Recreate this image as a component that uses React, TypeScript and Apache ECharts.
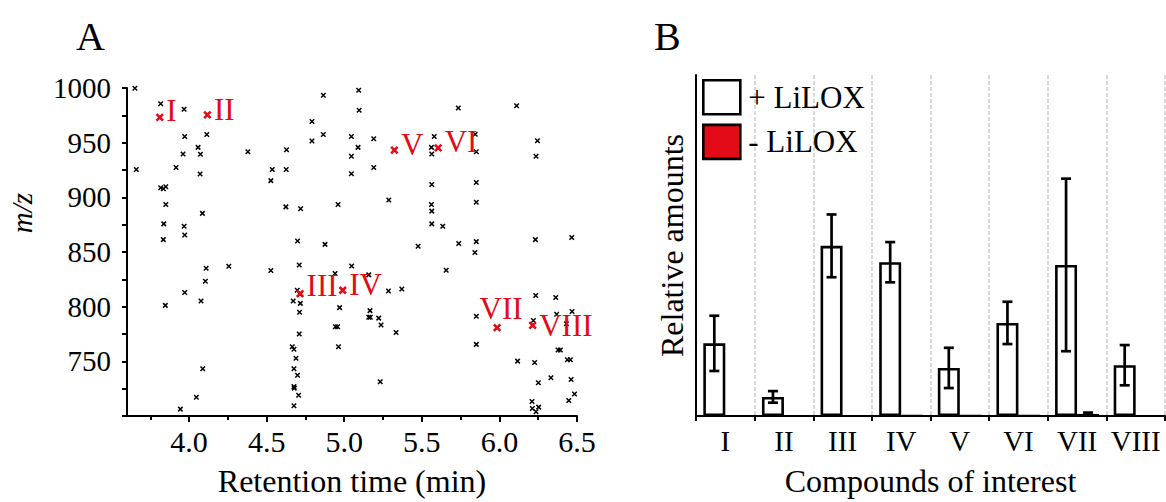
import React, { useEffect, useRef } from 'react';
import * as echarts from 'echarts';

// ---------- Panel A data ----------
const blackPoints: [number, number][] = [
  [3.651, 999.7], [3.817, 985.6], [3.968, 980.5], [4.792, 969.4], [3.972, 955.6], [4.114, 957.4],
  [4.792, 951.6], [4.058, 945.7], [3.961, 939.6], [4.073, 939.4], [4.379, 941.7], [4.628, 943.5],
  [3.66, 925.5], [3.916, 927.3], [4.071, 921.3], [4.536, 925.5], [4.626, 925.5], [4.527, 915.3],
  [3.817, 908.7], [3.834, 907.8], [3.85, 909.6], [3.85, 893.4], [4.086, 885.3], [4.624, 891.3],
  [4.719, 889.5], [3.837, 875.7], [3.968, 873.6], [3.834, 861.3], [3.972, 865.5], [4.699, 860.1],
  [4.865, 993.4], [5.093, 997.9], [5.096, 979.6], [5.735, 981.7], [4.865, 957.4], [5.046, 955.6],
  [5.19, 953.5], [5.089, 945.7], [5.046, 937.6], [5.58, 955.6], [5.562, 945.7], [5.564, 939.6],
  [5.844, 957.7], [5.851, 941.7], [5.19, 927.3], [5.046, 921.6], [5.564, 911.7], [5.851, 913.5],
  [4.96, 893.4], [5.287, 897.6], [5.562, 893.4], [5.564, 887.4], [5.851, 895.5], [5.564, 875.7],
  [5.635, 873.6], [4.876, 857.0], [5.476, 855.2], [5.738, 857.7], [5.851, 859.5], [5.842, 849.5],
  [6.111, 983.8], [6.245, 951.7], [6.236, 937.6], [6.232, 861.3], [6.466, 863.3],
  [4.71, 838.1], [4.11, 835.1], [4.256, 836.9], [4.527, 833.0], [4.105, 823.2], [3.972, 812.9],
  [3.847, 801.2], [4.077, 805.1], [4.697, 815.0], [4.715, 811.1], [4.671, 805.1], [4.717, 803.0],
  [4.712, 794.9], [4.71, 775.0], [4.665, 763.3], [4.676, 761.0], [4.689, 752.9], [4.088, 743.2],
  [4.676, 743.2], [4.699, 737.2], [4.676, 727.0], [4.678, 725.5], [4.706, 718.9], [4.047, 717.1],
  [3.944, 706.3], [4.676, 709.3],
  [5.048, 837.2], [5.657, 833.3], [4.941, 830.3], [5.158, 829.1], [5.285, 814.4], [5.371, 816.2],
  [4.97, 799.1], [5.166, 796.4], [5.158, 790.4], [5.168, 790.4], [5.222, 789.5], [5.237, 783.2],
  [4.943, 781.7], [4.957, 781.7], [5.334, 776.3], [5.851, 791.3], [5.851, 765.5], [4.963, 763.3],
  [5.232, 731.3],
  [6.234, 810.2], [6.363, 808.4], [6.219, 787.4], [6.369, 793.1], [6.468, 795.5], [6.432, 784.4],
  [6.378, 760.4], [6.393, 760.4], [6.438, 751.4], [6.457, 751.4], [6.117, 750.2], [6.227, 748.9],
  [6.332, 734.9], [6.251, 730.4], [6.462, 733.3], [6.484, 720.1], [6.447, 714.1], [6.21, 713.2],
  [6.212, 706.9], [6.253, 708.1], [6.236, 703.9],
];

const redPoints: [number, number][] = [
  [3.811, 973.2], [4.118, 975.4], [4.715, 812.0], [4.99, 815.0],
  [5.323, 943.2], [5.605, 945.3], [5.985, 780.8], [6.214, 782.9],
];
const redNames = ['I', 'II', 'III', 'IV', 'V', 'VI', 'VII', 'VIII'];

const xMajorTicks = [4.0, 4.5, 5.0, 5.5, 6.0, 6.5];
const xMinorTicks = [3.75, 4.25, 4.75, 5.25, 5.75, 6.25];

// ---------- Panel B data ----------
const compounds = ['I', 'II', 'III', 'IV', 'V', 'VI', 'VII', 'VIII'];
const plusLilox = [0.213, 0.056, 0.499, 0.451, 0.141, 0.273, 0.443, 0.149];
const plusErr = [0.081, 0.017, 0.092, 0.059, 0.059, 0.062, 0.253, 0.059];
const minusLilox = [0, 0, 0, 0.003, 0.002, 0.002, 0.006, 0];
const minusErr = [0, 0, 0, 0, 0, 0, 0.004, 0];

const FONT = '"Liberation Serif", "Times New Roman", Times, serif';
const RED = '#e20b17';

// label placement styles for red markers (by index)
const labelStyles: any[] = [
  { position: 'right', distance: 2, offset: [0, -7] },
  { position: 'right', distance: 2, offset: [0, -5] },
  { position: 'right', distance: 2, offset: [0, -8] },
  { position: 'right', distance: 2, offset: [0, -6] },
  { position: 'right', distance: 2, offset: [0, -6] },
  { position: 'right', distance: 2, offset: [0, -6] },
  { position: 'top', distance: 0, offset: [4, 1] },
  { position: 'right', distance: 2, offset: [0, 0] },
];

const X_PATH = 'path://M0,0L10,10M10,0L0,10';

function errorRenderer(shift: number) {
  return (params: any, api: any) => {
    const idx = api.value(0);
    const val = api.value(1);
    const err = api.value(2);
    if (!err) return null;
    const hi = api.coord([idx, val + err]);
    const lo = api.coord([idx, val - err]);
    const x = hi[0] + shift;
    const cap = 5;
    const style = { stroke: '#000', lineWidth: 2.7 };
    return {
      type: 'group',
      children: [
        { type: 'line', shape: { x1: x, y1: hi[1], x2: x, y2: lo[1] }, style },
        { type: 'line', shape: { x1: x - cap, y1: hi[1], x2: x + cap, y2: hi[1] }, style },
        { type: 'line', shape: { x1: x - cap, y1: lo[1], x2: x + cap, y2: lo[1] }, style },
      ],
    };
  };
}

export default function App() {
  const ref = useRef<HTMLDivElement>(null);
  useEffect(() => {
    const chart = echarts.init(ref.current!, null, { renderer: 'svg' });
    const axisLine = { show: true, lineStyle: { color: '#000', width: 2 } };
    const option: any = {
      animation: false,
      textStyle: { fontFamily: FONT, color: '#000' },
      grid: [
        { left: 127, top: 88, width: 450, height: 333 },
        { left: 696, top: 75, width: 469, height: 346 },
      ],
      legend: {
        data: ['+ LiLOX', '- LiLOX'],
        orient: 'vertical',
        left: 702,
        top: 79,
        padding: 0,
        itemWidth: 37,
        itemHeight: 34,
        itemGap: 8,
        icon: 'rect',
        selectedMode: false,
        itemStyle: { borderColor: '#000', borderWidth: 2.6 },
        textStyle: { fontFamily: FONT, fontSize: 31, color: '#000', padding: [0, 0, 0, 3] },
      },
      xAxis: [
        {
          gridIndex: 0, type: 'value', min: 3.6, max: 6.5, position: 'bottom',
          axisLine,
          axisTick: { show: true, customValues: xMajorTicks, length: 6, lineStyle: { color: '#000', width: 2 } },
          axisLabel: {
            customValues: xMajorTicks, fontSize: 30, margin: 10, color: '#000', fontFamily: FONT,
            formatter: (v: number) => v.toFixed(1),
          },
          splitLine: { show: false },
          name: 'Retention time (min)', nameLocation: 'middle', nameGap: 49,
          nameTextStyle: { fontSize: 32, fontFamily: FONT, color: '#000' },
        },
        {
          gridIndex: 0, type: 'value', min: 3.6, max: 6.5, position: 'bottom',
          axisLine: { show: false },
          axisTick: { show: true, customValues: xMinorTicks, length: 4, lineStyle: { color: '#000', width: 2 } },
          axisLabel: { show: false },
          splitLine: { show: false },
        },
        {
          gridIndex: 1, type: 'category', data: compounds, position: 'bottom',
          axisLine,
          axisTick: { show: true, interval: 0, length: 5, lineStyle: { color: '#000', width: 2 } },
          axisLabel: { interval: 0, fontSize: 29, margin: 10, color: '#000', fontFamily: FONT },
          splitLine: { show: true, interval: 0, lineStyle: { color: '#cccccc', type: [4, 2], width: 1.5 } },
          name: 'Compounds of interest', nameLocation: 'middle', nameGap: 49,
          nameTextStyle: { fontSize: 32, fontFamily: FONT, color: '#000' },
        },
      ],
      yAxis: [
        {
          gridIndex: 0, type: 'value', min: 700, max: 1000, interval: 50,
          axisLine,
          axisTick: { show: true, length: 5, lineStyle: { color: '#000', width: 2 } },
          minorTick: { show: true, splitNumber: 2, length: 5, lineStyle: { color: '#000', width: 2 } },
          axisLabel: {
            fontSize: 29, margin: 16, color: '#000', fontFamily: FONT, showMinLabel: false,
            formatter: (v: number) => String(v),
          },
          splitLine: { show: false },
          minorSplitLine: { show: false },
        },
        {
          gridIndex: 1, type: 'value', min: 0, max: 1,
          axisLine,
          axisTick: { show: false },
          axisLabel: { show: false },
          splitLine: { show: false },
          name: 'Relative amounts', nameLocation: 'middle', nameGap: 8, nameRotate: 90,
          nameTextStyle: { fontSize: 32, fontFamily: FONT, color: '#000' },
        },
      ],
      graphic: [
        { type: 'text', left: 76, top: 16, style: { text: 'A', font: `40px ${FONT}`, fill: '#000' } },
        { type: 'text', left: 654, top: 16, style: { text: 'B', font: `40px ${FONT}`, fill: '#000' } },
        {
          type: 'text', x: 22, y: 213, rotation: Math.PI / 2,
          style: { text: 'm/z', font: `italic 29px ${FONT}`, fill: '#000', align: 'center', verticalAlign: 'middle' },
        },
      ],
      series: [
        {
          type: 'scatter', xAxisIndex: 0, yAxisIndex: 0,
          symbol: X_PATH, symbolSize: 4.5,
          itemStyle: { color: '#000', borderColor: '#000', borderWidth: 1.5, opacity: 1 },
          data: blackPoints,
          z: 2,
        },
        {
          type: 'scatter', xAxisIndex: 0, yAxisIndex: 0,
          symbol: X_PATH, symbolSize: 6.5,
          itemStyle: { color: RED, borderColor: RED, borderWidth: 2.6, opacity: 1 },
          data: redPoints.map((p, i) => ({
            value: p,
            label: {
              show: true, formatter: redNames[i], color: RED, fontSize: 31, fontFamily: FONT,
              ...labelStyles[i],
            },
          })),
          z: 3,
        },
        {
          name: '+ LiLOX', type: 'bar', xAxisIndex: 2, yAxisIndex: 1,
          barWidth: 22, barGap: '0%',
          itemStyle: { color: '#ffffff', borderColor: '#000', borderWidth: 2.6 },
          data: plusLilox,
        },
        {
          name: '- LiLOX', type: 'bar', xAxisIndex: 2, yAxisIndex: 1,
          barWidth: 22, barGap: '0%',
          itemStyle: { color: RED, borderColor: '#000', borderWidth: 1.6 },
          data: minusLilox,
        },
        {
          type: 'custom', xAxisIndex: 2, yAxisIndex: 1, z: 5,
          renderItem: errorRenderer(-11),
          encode: { x: 0, y: 1 },
          data: plusLilox.map((v, i) => [i, v, plusErr[i]]),
        },
        {
          type: 'custom', xAxisIndex: 2, yAxisIndex: 1, z: 5,
          renderItem: errorRenderer(11),
          encode: { x: 0, y: 1 },
          data: minusLilox.map((v, i) => [i, v, minusErr[i]]),
        },
      ],
    };
    chart.setOption(option);
    return () => chart.dispose();
  }, []);
  return (
    <div
      ref={ref}
      style={{ position: 'absolute', left: 0, top: 0, width: 1166, height: 502, background: '#fff' }}
    />
  );
}
